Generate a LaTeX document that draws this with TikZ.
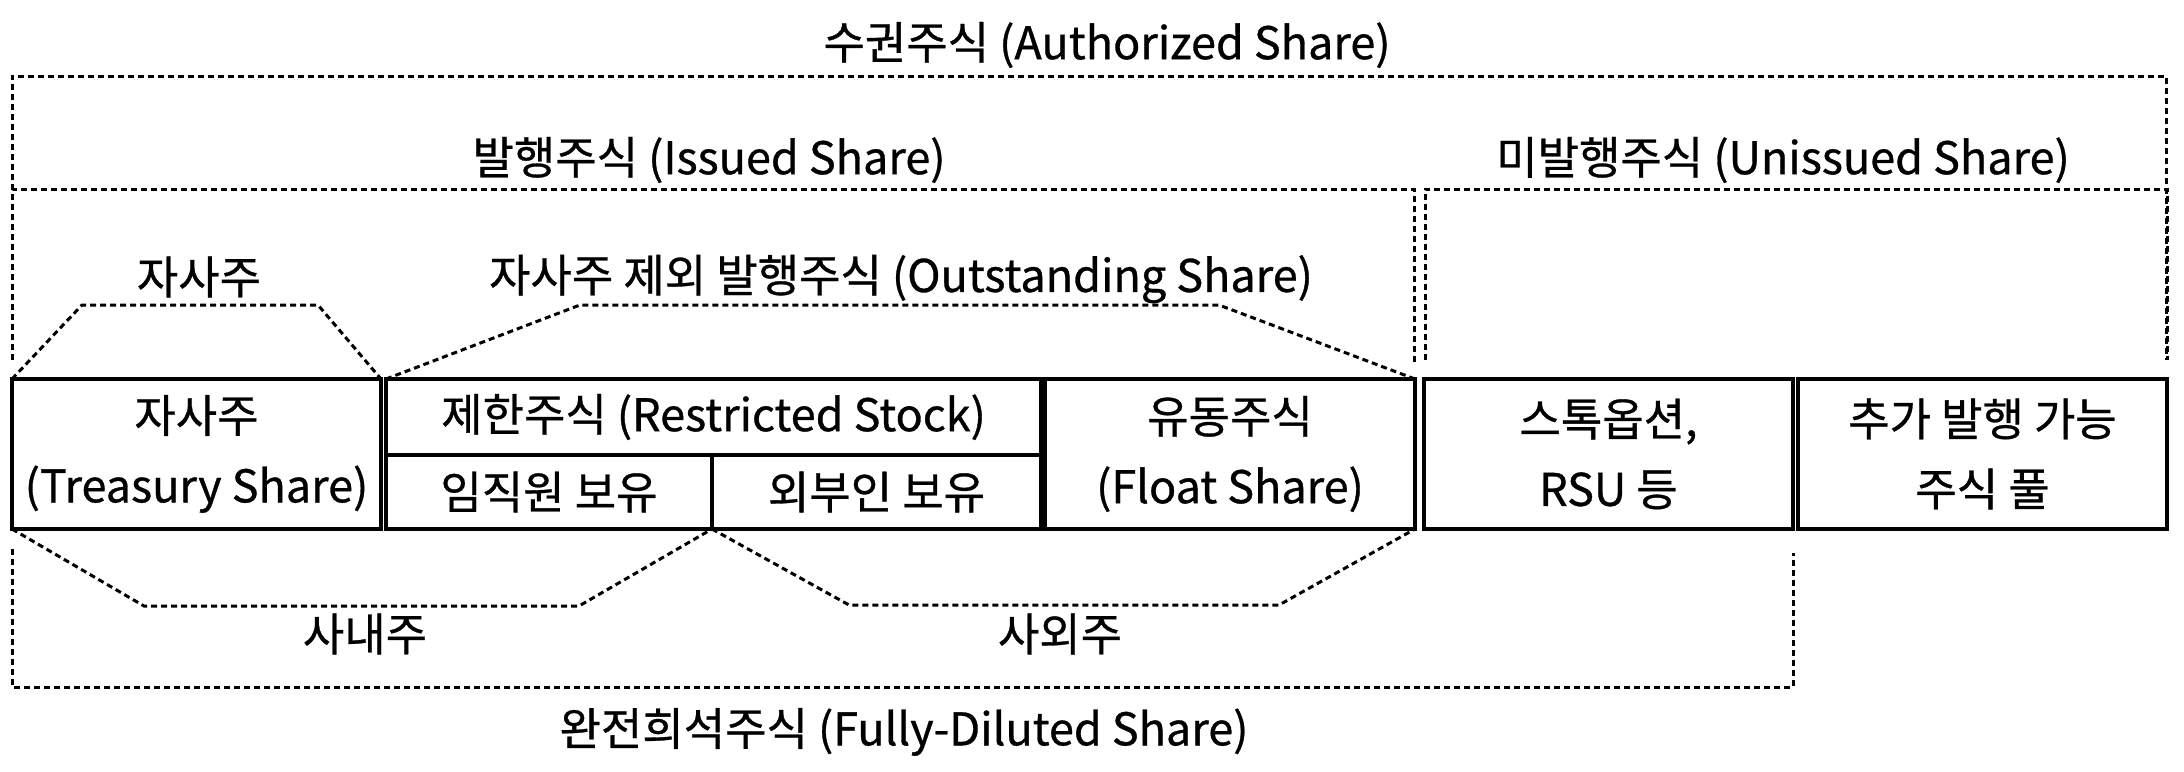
\documentclass[tikz,border=0pt]{standalone}
\usepackage{fontspec}
\setmainfont{Noto Sans CJK KR}[FakeBold=0.7]

\tikzset{
  cell/.style = {draw, line width=3.5pt, align=center, inner sep=0pt, outer sep=0pt,
    anchor=north west, font=\fontsize{45}{70}\selectfont},% solid share box
  grp/.style = {draw, line width=3pt, dash pattern=on 6pt off 4pt},% dotted group line
  lbl/.style = {inner sep=0pt, font=\fontsize{45}{54}\selectfont}% group label
}

\begin{document}
\begin{tikzpicture}[x=1pt, y=-1pt]
  \useasboundingbox (0,0) rectangle (2184,771);
  % share boxes
  \node [cell, minimum width=369pt, minimum height=150pt] (treas) at (12,379) {자사주\\(Treasury Share)};
  \node [cell, minimum width=655pt, minimum height=76pt] (rstock) at (386,379) {제한주식 (Restricted Stock)};
  \node [cell, minimum width=326pt, minimum height=74pt] (emp) at (386,455) {임직원 보유};
  \node [cell, minimum width=329pt, minimum height=74pt] (outsider) at (712,455) {외부인 보유};
  \node [cell, minimum width=370pt, minimum height=150pt] (float) at (1045,379) {유동주식\\(Float Share)};
  \node [cell, minimum width=369pt, minimum height=150pt] (option) at (1424,379) {스톡옵션,\\RSU 등};
  \node [cell, minimum width=369pt, minimum height=150pt] (pool) at (1798,379) {추가 발행 가능\\주식 풀};
  % dotted groups
  \draw [grp] (12,360) |- (2166,76) -- (2166,360);
  \draw [grp] (12,360) |- (1414,189) -- (1414,362);
  \draw [grp] (1425,360) |- (2167,189) -- (2167,360);
  \draw [grp] (12,549) |- (option.south east |- 0,687) -- ++(0,-134);
  % brackets above and below the boxes
  \draw [grp] (treas.north west) -- ++(70,-74) -- ++(236,0) -- (treas.north east);
  \draw [grp] (rstock.north west) -- ++(194,-74) -- ++(639,0) -- (float.north east);
  \draw [grp] (treas.south west) -- ++(132,77) -- ++(435,0) -- (emp.south east);
  \draw [grp] (outsider.south west) -- ++(137,76) -- ++(430,0) -- (float.south east);
  % labels
  \node [lbl] (authT) at (1107,45) {수권주식 (Authorized Share)};
  \node [lbl] (issT) at (709,160) {발행주식 (Issued Share)};
  \node [lbl] (unissT) at (1783,160) {미발행주식 (Unissued Share)};
  \node [lbl] (treasT) at (199,277) {자사주};
  \node [lbl] (outT) at (901,279) {자사주 제외 발행주식 (Outstanding Share)};
  \node [lbl] (inT) at (365,634) {사내주};
  \node [lbl] (exT) at (1060,634) {사외주};
  \node [lbl] (fdT) at (904,732) {완전희석주식 (Fully-Diluted Share)};
\end{tikzpicture}
\end{document}
